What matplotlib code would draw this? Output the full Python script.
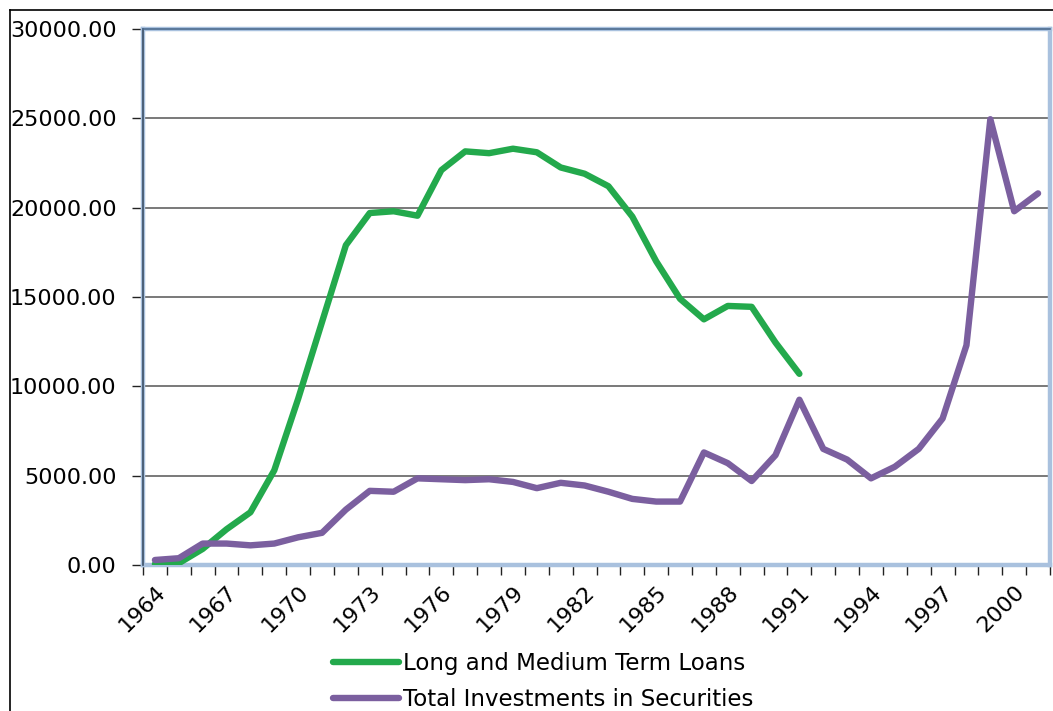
import matplotlib
matplotlib.use("Agg")
import matplotlib.pyplot as plt
from matplotlib.lines import Line2D
from matplotlib.ticker import FixedLocator, FuncFormatter

years = list(range(1964, 2002))
loans = [50, 100, 900, 2000, 2950, 5300, 9300, 13600, 17900, 19700,
         19800, 19550, 22100, 23150, 23050, 23300, 23100, 22250, 21900, 21200,
         19500, 17000, 14900, 13750, 14500, 14450, 12450, 10700]
securities = [280, 380, 1200, 1200, 1100, 1200, 1550, 1800, 3100, 4150,
              4100, 4850, 4800, 4750, 4800, 4650, 4300, 4600, 4450, 4100,
              3700, 3550, 3550, 6300, 5700, 4700, 6150, 9250, 6500, 5900,
              4850, 5500, 6500, 8200, 12300, 24950, 19800, 20800]
yticks = [0, 5000, 10000, 15000, 20000, 25000, 30000]
label_years = list(range(1964, 2002, 3))
series_names = ["Long and Medium Term Loans", "Total Investments in Securities"]

plt.rcParams['font.family'] = ['DejaVu Sans']

fig = plt.figure(figsize=(10.53, 7.11), dpi=100)
W, H = 1053, 711
ax = fig.add_axes([143 / W, 1 - 565 / H, (1050 - 143) / W, (565 - 29) / H])

green = '#23a94c'
purple = '#7b5f9f'

xs_l = list(range(len(loans)))
xs_s = list(range(len(securities)))
ax.plot(xs_l, loans, color=green, lw=4.6, solid_capstyle='round', solid_joinstyle='round',
        label=series_names[0], zorder=4)
ax.plot(xs_s, securities, color=purple, lw=4.6, solid_capstyle='round', solid_joinstyle='round',
        label=series_names[1], zorder=5)

ax.set_xlim(-0.5, len(years) - 0.5)
ax.set_ylim(0, 30000)

# y axis
ax.set_yticks(yticks)
ax.yaxis.set_major_formatter(FuncFormatter(lambda v, p: f"{v:.2f}"))
ax.tick_params(axis='y', direction='out', length=8, width=1, color='#222222',
               labelsize=16, pad=11, labelcolor='black')
for v in yticks[1:-1]:
    ax.axhline(v, color='#555555', lw=1.1, zorder=1)

# x axis: ticks between categories, labels every 3 years
bounds = [i - 0.5 for i in range(len(years) + 1)]
ax.xaxis.set_major_locator(FixedLocator(bounds))
ax.xaxis.set_major_formatter(FuncFormatter(lambda v, p: ""))
centers = [years.index(y) for y in label_years]
ax.xaxis.set_minor_locator(FixedLocator(centers))
ax.xaxis.set_minor_formatter(FuncFormatter(lambda v, p: str(years[int(round(v))])))
ax.tick_params(axis='x', which='major', direction='out', length=7, width=1, color='#222222')
ax.tick_params(axis='x', which='minor', length=0, labelsize=16, pad=12)
for lab in ax.xaxis.get_minorticklabels():
    lab.set_rotation(45)
    lab.set_ha('right')
    lab.set_va('top')
    lab.set_rotation_mode('anchor')

# plot area border
for s in ax.spines.values():
    s.set_color('#a9c1de')
    s.set_linewidth(3.2)
ax.add_line(Line2D([0, 0], [0, 1], transform=ax.transAxes, color='#3b4f66', lw=1.2, zorder=6, clip_on=False))
ax.add_line(Line2D([0, 1], [1, 1], transform=ax.transAxes, color='#4d6c8f', lw=1.2, zorder=6, clip_on=False))

# outer frame
fig.add_artist(Line2D([10 / W, 10 / W], [0, 1 - 10 / H], transform=fig.transFigure, color='black', lw=1.2))
fig.add_artist(Line2D([10 / W, 1], [1 - 10 / H, 1 - 10 / H], transform=fig.transFigure, color='black', lw=1.2))

leg = fig.legend(handles=ax.get_lines(), labels=series_names, loc='upper left',
                 bbox_to_anchor=(333 / W, 1 - 652 / H), frameon=False, fontsize=16.5,
                 handlelength=2.9, handletextpad=0.15, labelspacing=0.55, borderpad=0,
                 borderaxespad=0)

fig.savefig('out.png', dpi=100)
